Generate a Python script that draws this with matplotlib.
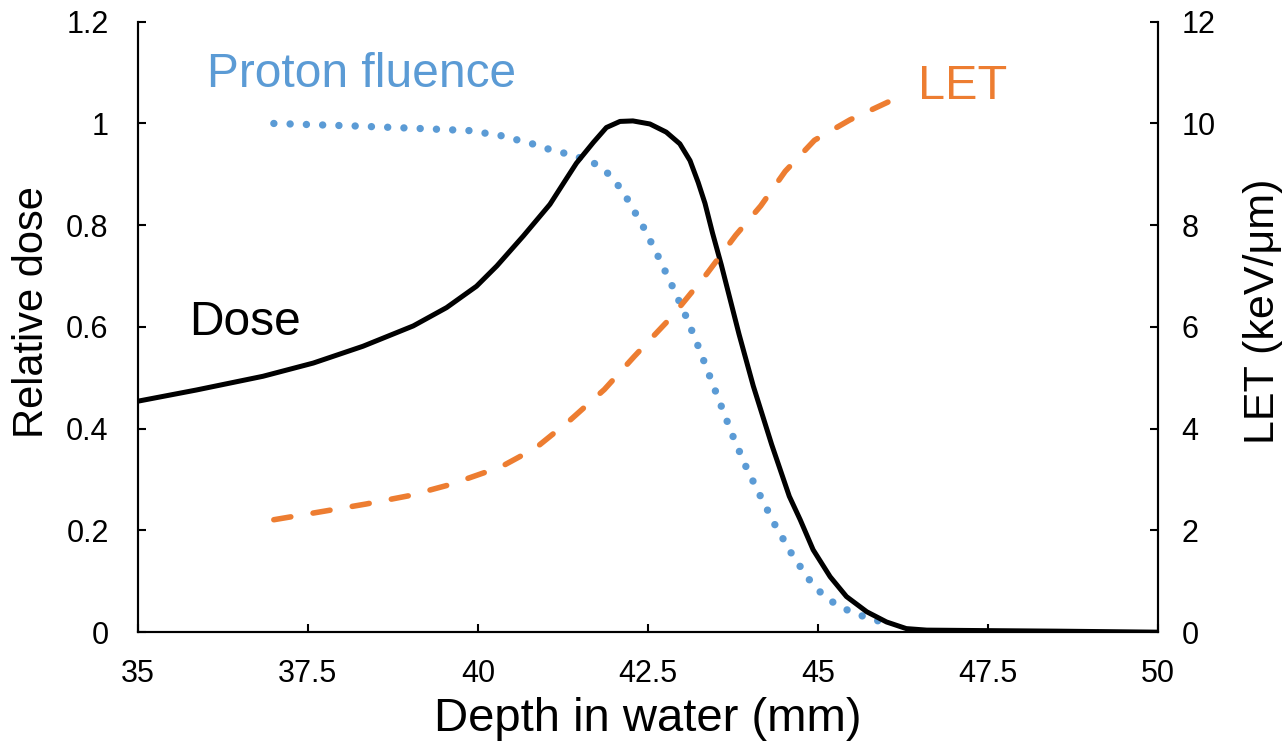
import numpy as np
import matplotlib
matplotlib.use('Agg')
import matplotlib.pyplot as plt

plt.rcParams['font.family'] = ['Liberation Sans', 'DejaVu Sans']

# dose (relative)
dose_x = [35.0, 35.86, 36.84, 37.58, 38.31, 39.05, 39.54, 39.98, 40.28, 40.67,
          41.06, 41.30, 41.45, 41.70, 41.89, 42.09, 42.28, 42.53, 42.77, 42.97,
          43.12, 43.24, 43.34, 43.45, 43.58, 43.84, 44.05, 44.32, 44.58, 44.74,
          44.93, 45.18, 45.42, 45.72, 46.01, 46.30, 46.6, 47.5, 48.5, 50.0]
dose_y = [0.454, 0.476, 0.503, 0.529, 0.562, 0.602, 0.638, 0.680, 0.720, 0.779,
          0.841, 0.891, 0.922, 0.963, 0.992, 1.004, 1.005, 0.999, 0.983, 0.96,
          0.927, 0.884, 0.843, 0.785, 0.722, 0.586, 0.484, 0.369, 0.267, 0.221,
          0.162, 0.109, 0.070, 0.040, 0.020, 0.007, 0.004, 0.003, 0.002, 0.0]

# proton fluence (relative)
flu_x = [37.0, 38.2, 39.16, 39.87, 40.34, 40.8, 41.03, 41.26, 41.49, 41.72, 41.91,
         42.07, 42.2, 42.44, 42.65, 42.86, 43.06, 43.24, 43.41, 43.58, 43.76,
         43.95, 44.16, 44.38, 44.49, 44.61, 44.74, 44.88, 45.04, 45.23, 45.44,
         45.67, 45.89, 46.0]
flu_y = [1.0, 0.995, 0.99, 0.986, 0.976, 0.96, 0.95, 0.942, 0.933, 0.921, 0.902,
         0.877, 0.851, 0.795, 0.739, 0.68, 0.621, 0.562, 0.503, 0.444, 0.382,
         0.323, 0.266, 0.208, 0.183, 0.155, 0.129, 0.102, 0.078, 0.058, 0.043,
         0.031, 0.022, 0.016]

# LET (keV/um)
let_x = [37.0, 37.75, 38.36, 38.98, 39.59, 40.34, 40.85, 41.35, 41.86, 42.3, 42.85,
         43.37, 43.79, 44.16, 44.52, 44.95, 45.47, 46.03]
let_y = [2.21, 2.38, 2.52, 2.68, 2.90, 3.25, 3.62, 4.16, 4.77, 5.42, 6.2,
         7.05, 7.8, 8.38, 9.06, 9.67, 10.07, 10.42]

xticks = [35, 37.5, 40, 42.5, 45, 47.5, 50]
xticklabels = ['35', '37.5', '40', '42.5', '45', '47.5', '50']
yticks = [0, 0.2, 0.4, 0.6, 0.8, 1.0, 1.2]
yticklabels = ['0', '0.2', '0.4', '0.6', '0.8', '1', '1.2']
y2ticks = [0, 2, 4, 6, 8, 10, 12]

blue = '#5b9bd5'
orange = '#ed7d31'

fig = plt.figure(figsize=(12.88, 7.49), dpi=100)
ax = fig.add_axes([0.107, 0.156, 0.792, 0.815])
ax2 = ax.twinx()

ax.set_xlim(35, 50)
ax.set_ylim(0, 1.2)
ax2.set_ylim(0, 12)

ax.plot(dose_x, dose_y, color='black', lw=3.6, solid_joinstyle='round', zorder=3)
ax.plot(flu_x, flu_y, color=blue, lw=5.3, linestyle=(0, (0.01, 2.2)),
        dash_capstyle='round', zorder=2)

# stretch the dash gap a little so the LET line ends on a dash
let_lw = 4.0
dash = 3.1
pts = ax2.transData.transform(np.column_stack([let_x, let_y]))
length = np.sum(np.hypot(*np.diff(pts, axis=0).T)) * 72 / fig.dpi / let_lw
n = max(1, round((length - dash) / 7.3))
gap = (length - dash) / n - dash
ax2.plot(let_x, let_y, color=orange, lw=let_lw, linestyle=(0, (dash, gap)),
         dash_capstyle='round')

ax.set_xticks(xticks)
ax.set_xticklabels(xticklabels)
ax.set_yticks(yticks)
ax.set_yticklabels(yticklabels)
ax2.set_yticks(y2ticks)

for a in (ax, ax2):
    a.spines['top'].set_visible(False)
    for s in a.spines.values():
        s.set_linewidth(1.5)
ax.tick_params(axis='both', direction='in', length=6, width=1.5, labelsize=22)
ax.tick_params(axis='x', pad=19)
ax.tick_params(axis='y', pad=21)
ax2.tick_params(axis='y', direction='in', length=6, width=1.5, labelsize=22, pad=17)

ax.set_xlabel('Depth in water (mm)', fontsize=34, labelpad=6)
ax.set_ylabel('Relative dose', fontsize=30)
ax2.set_ylabel('LET (keV/μm)', fontsize=31)
ax.yaxis.set_label_coords(-0.084, 0.525)
ax2.yaxis.set_label_coords(1.083, 0.525)

ax.text(35.76, 0.609, 'Dose', fontsize=34.5, color='black', va='center')
ax.text(36.01, 1.097, 'Proton fluence', fontsize=34.5, color=blue, va='center')
ax.text(46.47, 1.072, 'LET', fontsize=35, color=orange, va='center')

fig.savefig('out.png', dpi=100)
